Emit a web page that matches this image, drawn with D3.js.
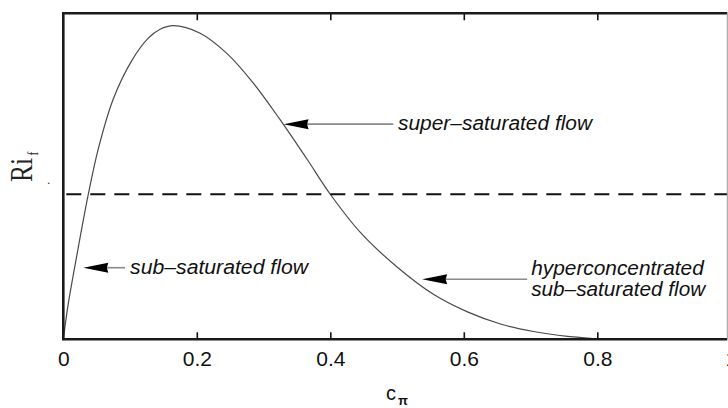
<!DOCTYPE html>
<html>
<head>
<meta charset="utf-8">
<script src="https://cdn.jsdelivr.net/npm/d3@7"></script>
<style>
  html, body { margin: 0; padding: 0; background: #fff; }
  svg { display: block; }
</style>
</head>
<body>
<svg id="chart" width="728" height="408"></svg>
<script>
// Volumetric concentration c_pi against flux Richardson number Ri_f
const concentration = [0, 0.0075, 0.0175, 0.0375, 0.0525, 0.075, 0.1026, 0.127, 0.145, 0.165, 0.205,
  0.245, 0.285, 0.325, 0.365, 0.40, 0.445, 0.5005, 0.5545, 0.6055, 0.655, 0.7045, 0.7555, 0.79, 0.80];
const richardson = [0, 0.11, 0.226, 0.445, 0.585, 0.738, 0.855, 0.923, 0.951, 0.962, 0.939,
  0.877, 0.785, 0.673, 0.553, 0.445, 0.328, 0.221, 0.138, 0.084, 0.047, 0.024, 0.009, 0.003, 0];
// critical value separating the two regimes
const criticalRi = 0.445;
const xTickValues = [0, 0.2, 0.4, 0.6, 0.8, 1];
const innerTickValues = [0.2, 0.4, 0.6, 0.8];

// annotation arrows: tip, shaft end and text anchor given in data units
const notes = [
  { tip: [0.33, 0.66], tail: 0.4945, textAt: [0.5015, 0.642], lines: ["super\u2013saturated flow"], widths: [194] },
  { tip: [0.03, 0.2196], tail: 0.0925, textAt: [0.1, 0.2018], lines: ["sub\u2013saturated flow"], widths: [178] },
  { tip: [0.5376, 0.184], tail: 0.695, textAt: [0.701, 0.197], lines: ["hyperconcentrated", "sub\u2013saturated flow"], widths: [172.6, 174] }
];

const svg = d3.select("#chart");
const plotLeft = 63.3, plotTop = 13.3, plotBottom = 339.3, plotRight = 727.3;

const x = d3.scaleLinear().domain([0, 1]).range([plotLeft, 730.8]);
const y = d3.scaleLinear().domain([0, 1]).range([plotBottom, plotTop]);

// curve
const line = d3.line()
  .x((d, i) => x(concentration[i]))
  .y((d, i) => y(richardson[i]))
  .curve(d3.curveCatmullRom.alpha(0.5));

svg.append("path")
  .datum(richardson)
  .attr("d", line)
  .attr("fill", "none")
  .attr("stroke", "#4a4a4a")
  .attr("stroke-width", 1.2);

// dashed critical line
svg.append("line")
  .attr("x1", x(0) + 3).attr("x2", plotRight)
  .attr("y1", y(criticalRi)).attr("y2", y(criticalRi))
  .attr("stroke", "#111")
  .attr("stroke-width", 2)
  .attr("stroke-dasharray", "15,9");

// bottom axis with labels
const fmt = d3.format("~g");
const xAxis = svg.append("g")
  .attr("transform", `translate(0,${plotBottom})`)
  .call(d3.axisBottom(x).tickValues(xTickValues).tickFormat(fmt).tickSize(-7).tickPadding(11.4));
xAxis.select(".domain").remove();
xAxis.selectAll(".tick line")
  .attr("stroke", "#111").attr("stroke-width", 1.6)
  .attr("display", d => innerTickValues.includes(d) ? null : "none");
xAxis.selectAll(".tick text")
  .attr("font-family", "'Liberation Sans', Arial, sans-serif")
  .attr("font-size", 21)
  .attr("fill", "#111");

// top axis ticks
const topAxis = svg.append("g")
  .attr("transform", `translate(0,${plotTop})`)
  .call(d3.axisTop(x).tickValues(innerTickValues).tickFormat("").tickSize(-7));
topAxis.select(".domain").remove();
topAxis.selectAll(".tick line").attr("stroke", "#111").attr("stroke-width", 1.6);

// frame
svg.append("path")
  .attr("d", `M${plotRight},${plotTop}H${plotLeft}V${plotBottom}H${plotRight}`)
  .attr("fill", "none").attr("stroke", "#1a1a1a").attr("stroke-width", 2.6);
svg.append("line")
  .attr("x1", plotRight).attr("x2", plotRight).attr("y1", plotTop).attr("y2", plotBottom)
  .attr("stroke", "#999").attr("stroke-width", 1);

// annotations
const headLen = 25, headHalf = 5;
notes.forEach(n => {
  const tx = x(n.tip[0]), ty = y(n.tip[1]);
  svg.append("line")
    .attr("x1", tx + headLen - 2).attr("x2", x(n.tail))
    .attr("y1", ty).attr("y2", ty)
    .attr("stroke", "#8a8a8a").attr("stroke-width", 1.6);
  svg.append("path")
    .attr("d", `M${tx},${ty}L${tx + headLen},${ty - headHalf}L${tx + headLen - 1.5},${ty}L${tx + headLen},${ty + headHalf}Z`)
    .attr("fill", "#000");
  n.lines.forEach((t, i) => {
    svg.append("text")
      .attr("x", x(n.textAt[0]))
      .attr("y", y(n.textAt[1]) + i * 21)
      .attr("font-family", "'Liberation Sans', Arial, sans-serif")
      .attr("font-style", "italic")
      .attr("font-size", 20)
      .attr("fill", "#111")
      .attr("textLength", n.widths[i])
      .attr("lengthAdjust", "spacingAndGlyphs")
      .text(t);
  });
});

// x label c_pi
const xl = svg.append("text")
  .attr("x", 386).attr("y", 400)
  .attr("font-family", "'Liberation Sans', Arial, sans-serif")
  .attr("font-size", 20)
  .attr("fill", "#111");
xl.append("tspan").text("c");
xl.append("tspan").attr("dy", 5).attr("dx", 2).attr("font-size", 13).attr("font-weight", "bold").text("\u03c0");

// y label Ri_f
const yl = svg.append("text")
  .attr("transform", "translate(32,182) rotate(-90) scale(0.8,1)")
  .attr("font-family", "'Liberation Serif', 'Times New Roman', serif")
  .attr("font-size", 32)
  .attr("fill", "#222");
yl.append("tspan").text("Ri");
yl.append("tspan").attr("dy", 6).attr("dx", 3).attr("font-size", 14).text("f");

svg.append("text")
  .attr("x", 47).attr("y", 184)
  .attr("font-family", "'Liberation Sans', Arial, sans-serif")
  .attr("font-size", 12)
  .attr("fill", "#333")
  .text(".");
</script>
</body>
</html>
